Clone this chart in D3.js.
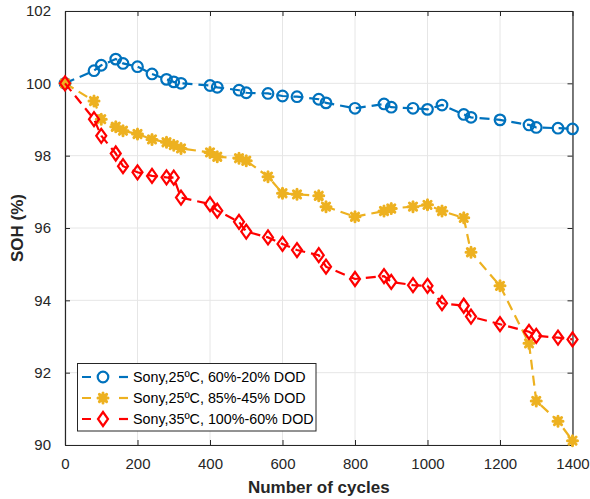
<!DOCTYPE html>
<html><head><meta charset="utf-8">
<script src="https://cdn.jsdelivr.net/npm/d3@7"></script>
<style>body{margin:0;background:#fff}svg{display:block;font-family:Arial,"Liberation Sans",Helvetica,sans-serif}</style>
</head><body><svg id="c" width="590" height="499"></svg>
<script>
const cycles = [0,80,100,140,160,200,240,280,300,320,400,420,480,500,560,600,640,700,720,800,880,900,960,1000,1040,1100,1120,1200,1280,1300,1360,1400];
const soh60_20 = [100,100.35,100.5,100.67,100.55,100.46,100.26,100.11,100.04,100.0,99.94,99.89,99.81,99.74,99.72,99.65,99.63,99.56,99.46,99.31,99.43,99.34,99.31,99.28,99.4,99.14,99.06,98.99,98.85,98.78,98.76,98.74];
const soh85_45 = [100,99.51,99.01,98.8,98.69,98.6,98.45,98.37,98.29,98.2,98.09,97.97,97.93,97.86,97.42,96.96,96.93,96.89,96.59,96.31,96.47,96.54,96.59,96.64,96.47,96.28,95.33,94.4,92.81,91.22,90.66,90.12];
const soh100_60 = [100,99.01,98.55,98.06,97.71,97.54,97.44,97.4,97.39,96.84,96.66,96.48,96.17,95.9,95.74,95.56,95.39,95.25,94.93,94.59,94.67,94.51,94.42,94.4,93.92,93.85,93.55,93.34,93.13,93.02,92.97,92.92];
const seriesNames = ["Sony,25ºC, 60%-20% DOD","Sony,25ºC, 85%-45% DOD","Sony,35ºC, 100%-60% DOD"];
const xTicks = [0,200,400,600,800,1000,1200,1400];
const yTicks = [90,92,94,96,98,100,102];

const colors = ["#0072BD","#EDB120","#FF0000"];
const markers = ["circle","asterisk","diamond"];
const allSeries = [soh60_20, soh85_45, soh100_60];

const svg = d3.select("#c");
const L=65, R=572.5, T=11, B=445;
const x = d3.scaleLinear().domain([0,1400]).range([L,R]);
const y = d3.scaleLinear().domain([90,102]).range([B,T]);
const axisColor = "#262626";
const fmt = d3.format("d");

// grid
const g = svg.append("g");
g.selectAll(".gx").data(xTicks).join("line")
 .attr("x1",d=>x(d)).attr("x2",d=>x(d)).attr("y1",T).attr("y2",B)
 .attr("stroke","#e6e6e6").attr("stroke-width",1);
g.selectAll(".gy").data(yTicks).join("line")
 .attr("y1",d=>y(d)).attr("y2",d=>y(d)).attr("x1",L).attr("x2",R)
 .attr("stroke","#e6e6e6").attr("stroke-width",1);

// axes
function styleAxis(sel){
  sel.select(".domain").attr("stroke",axisColor).attr("stroke-width",1.2);
  sel.selectAll(".tick line").attr("stroke",axisColor).attr("stroke-width",1);
  sel.selectAll(".tick text").attr("fill",axisColor).style("font-size","15px");
}
const xb = svg.append("g").attr("transform",`translate(0,${B})`)
 .call(d3.axisBottom(x).tickValues(xTicks).tickFormat(fmt).tickSizeInner(-5).tickSizeOuter(0).tickPadding(13));
styleAxis(xb);
const xt = svg.append("g").attr("transform",`translate(0,${T})`)
 .call(d3.axisTop(x).tickValues(xTicks).tickSizeInner(-5).tickSizeOuter(0).tickFormat(""));
styleAxis(xt);
const yl = svg.append("g").attr("transform",`translate(${L},0)`)
 .call(d3.axisLeft(y).tickValues(yTicks).tickFormat(fmt).tickSizeInner(-5).tickSizeOuter(0).tickPadding(14));
styleAxis(yl);
const yr = svg.append("g").attr("transform",`translate(${R},0)`)
 .call(d3.axisRight(y).tickValues(yTicks).tickSizeInner(-5).tickSizeOuter(0).tickFormat(""));
styleAxis(yr);

// markers
function markerPath(type){
  if(type==="circle") return d3.symbol().type(d3.symbolCircle).size(Math.PI*5.3*5.3)();
  if(type==="diamond") return "M0,-7L5,0L0,7L-5,0Z";
  const r=5, d=3.6;
  return `M${-r},0L${r},0M0,${-r}L0,${r}M${-d},${-d}L${d},${d}M${-d},${d}L${d},${-d}`;
}
const line = d3.line().x(d=>x(d[0])).y(d=>y(d[1]));
allSeries.forEach((vals,i)=>{
  const pts = cycles.map((c,j)=>[c,vals[j]]);
  const sg = svg.append("g");
  sg.append("path").datum(pts).attr("d",line).attr("fill","none")
    .attr("stroke",colors[i]).attr("stroke-width",2.2).attr("stroke-dasharray","10,6");
  sg.selectAll("path.m").data(pts).join("path").attr("class","m")
    .attr("transform",d=>`translate(${x(d[0])},${y(d[1])})`)
    .attr("d",markerPath(markers[i]))
    .attr("fill","none").attr("stroke",colors[i])
    .attr("stroke-width",markers[i]==="asterisk"?3:2.2)
    .attr("stroke-linecap","round");
});

// axis titles
svg.append("text").attr("x",(L+R)/2).attr("y",493).attr("text-anchor","middle")
 .attr("font-weight","bold").attr("font-size","17px").attr("fill",axisColor).text("Number of cycles");
svg.append("text").attr("transform",`translate(23,${(T+B)/2}) rotate(-90)`).attr("text-anchor","middle")
 .attr("font-weight","bold").attr("font-size","17px").attr("fill",axisColor).text("SOH (%)");

// legend
const lg = svg.append("g");
lg.append("rect").attr("x",77.5).attr("y",363.5).attr("width",238.5).attr("height",67.5)
 .attr("fill","#fff").attr("stroke","#262626").attr("stroke-width",1);
const rowsY = [377,398,419];
seriesNames.forEach((name,i)=>{
  const ry = rowsY[i];
  lg.append("line").attr("x1",82).attr("x2",128).attr("y1",ry).attr("y2",ry)
    .attr("stroke",colors[i]).attr("stroke-width",2.2).attr("stroke-dasharray","9,28");
  lg.append("line").attr("x1",119).attr("x2",128).attr("y1",ry).attr("y2",ry)
    .attr("stroke",colors[i]).attr("stroke-width",2.2);
  lg.append("path").attr("transform",`translate(103,${ry})`).attr("d",markerPath(markers[i]))
    .attr("fill","none").attr("stroke",colors[i]).attr("stroke-width",markers[i]==="asterisk"?3:2.2).attr("stroke-linecap","round");
  lg.append("text").attr("x",133).attr("y",ry).attr("dy","0.36em").attr("font-size","14.3px")
    .attr("fill","#000").text(name);
});
</script></body></html>
